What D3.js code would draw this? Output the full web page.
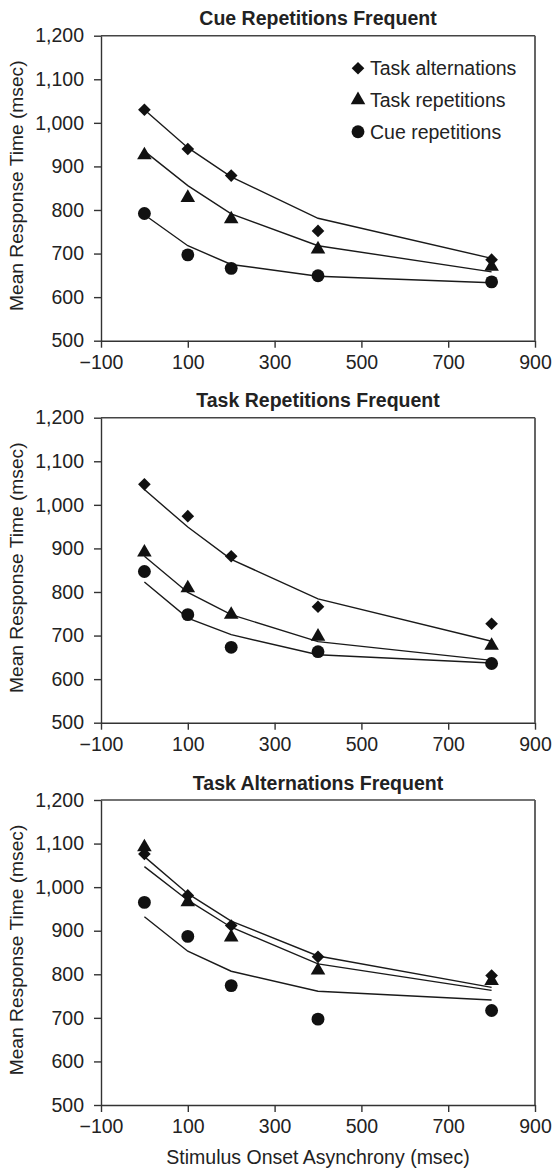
<!DOCTYPE html>
<html>
<head>
<meta charset="utf-8">
<script src="https://cdn.jsdelivr.net/npm/d3@7"></script>
<style>
  html, body { margin: 0; padding: 0; background: #fff; }
  svg { display: block; }
  text { font-family: "Liberation Sans", Arial, Helvetica, sans-serif; fill: #222; }
</style>
</head>
<body>
<svg id="chart" width="554" height="1171"></svg>
<script>
// ---------- data ----------
const soa = [0, 100, 200, 400, 800];
const xTicks = [-100, 100, 300, 500, 700, 900];
const yTicks = [500, 600, 700, 800, 900, 1000, 1100, 1200];
const seriesNames = ["Task alternations", "Task repetitions", "Cue repetitions"];
const panelTitles = ["Cue Repetitions Frequent", "Task Repetitions Frequent", "Task Alternations Frequent"];

// observed means (markers)
const cueFreqAlt = [1030, 940, 879, 752, 686];
const cueFreqRep = [926, 828, 779, 710, 670];
const cueFreqCue = [792, 697, 666, 649, 635];
const taskRepFreqAlt = [1047, 974, 882, 766, 727];
const taskRepFreqRep = [891, 809, 748, 698, 677];
const taskRepFreqCue = [847, 748, 673, 663, 636];
const taskAltFreqAlt = [1076, 981, 912, 840, 797];
const taskAltFreqRep = [1092, 966, 885, 809, 785];
const taskAltFreqCue = [965, 887, 774, 697, 717];

// model fits (lines)
const cueFreqAltFit = [1030, 943, 876, 781, 689];
const cueFreqRepFit = [935, 856, 791, 718, 658];
const cueFreqCueFit = [789, 718, 675, 648, 633];
const taskRepFreqAltFit = [1035, 949, 875, 784, 687];
const taskRepFreqRepFit = [882, 799, 748, 686, 643];
const taskRepFreqCueFit = [823, 740, 702, 656, 637];
const taskAltFreqAltFit = [1070, 985, 922, 842, 770];
const taskAltFreqRepFit = [1047, 970, 908, 824, 763];
const taskAltFreqCueFit = [932, 853, 807, 761, 741];

const panels = [
  { title: panelTitles[0], obs: [cueFreqAlt, cueFreqRep, cueFreqCue], fit: [cueFreqAltFit, cueFreqRepFit, cueFreqCueFit], legend: true },
  { title: panelTitles[1], obs: [taskRepFreqAlt, taskRepFreqRep, taskRepFreqCue], fit: [taskRepFreqAltFit, taskRepFreqRepFit, taskRepFreqCueFit] },
  { title: panelTitles[2], obs: [taskAltFreqAlt, taskAltFreqRep, taskAltFreqCue], fit: [taskAltFreqAltFit, taskAltFreqRepFit, taskAltFreqCueFit], xTitle: true }
];

// ---------- layout ----------
const left = 101, plotW = 434, plotH = 305;
const panelTops = [35.7, 417.7, 800];
const fontSize = 19.5;

const svg = d3.select("#chart");

const x = d3.scaleLinear().domain([-100, 900]).range([0, plotW]);
const y = d3.scaleLinear().domain([500, 1200]).range([plotH, 0]);

const symbols = [
  d3.symbol().type(d3.symbolSquare).size(80),
  d3.symbol().type(d3.symbolTriangle).size(92),
  d3.symbol().type(d3.symbolCircle).size(130)
];
const rotations = [45, 0, 0];

const line = d3.line().x((d, i) => x(soa[i])).y(d => y(d));

panels.forEach((p, pi) => {
  const g = svg.append("g").attr("transform", `translate(${left},${panelTops[pi]})`);

  // title
  g.append("text")
    .attr("x", plotW / 2).attr("y", -10.5)
    .attr("text-anchor", "middle")
    .style("font-size", fontSize + "px").style("font-weight", "bold")
    .text(p.title);

  // frame top/right
  g.append("line").attr("x1", 0).attr("x2", plotW).attr("y1", 0).attr("y2", 0)
    .attr("stroke", "#444").attr("stroke-width", 1.4);
  g.append("line").attr("x1", plotW).attr("x2", plotW).attr("y1", 0).attr("y2", plotH)
    .attr("stroke", "#555").attr("stroke-width", 1.8);

  // axes
  const yAxis = d3.axisLeft(y).tickValues(yTicks).tickFormat(d3.format(",")).tickSize(7).tickSizeOuter(0).tickPadding(10);
  const xAxis = d3.axisBottom(x).tickValues(xTicks).tickFormat(d3.format("d")).tickSize(7).tickSizeOuter(0).tickPadding(7);

  const ya = g.append("g").call(yAxis);
  const xa = g.append("g").attr("transform", `translate(0,${plotH})`).call(xAxis);
  [ya, xa].forEach(a => {
    a.selectAll("path,line").attr("stroke", "#333").attr("stroke-width", 1.4);
    a.selectAll("text").style("font-size", fontSize + "px").attr("fill", "#222")
      .style("font-family", '"Liberation Sans", Arial, sans-serif');
  });

  // y title
  g.append("text")
    .attr("transform", `translate(${23 - left},${plotH / 2 - 2.5}) rotate(-90)`)
    .attr("text-anchor", "middle")
    .style("font-size", "19.2px")
    .text("Mean Response Time (msec)");

  if (p.xTitle) {
    g.append("text")
      .attr("x", plotW / 2).attr("y", plotH + 58.5)
      .attr("text-anchor", "middle")
      .style("font-size", fontSize + "px")
      .text("Stimulus Onset Asynchrony (msec)");
  }

  // fit lines
  p.fit.forEach(s => {
    g.append("path").datum(s).attr("d", line)
      .attr("fill", "none").attr("stroke", "#1a1a1a").attr("stroke-width", 1.4);
  });

  // markers (circles first, diamonds last)
  [2, 1, 0].forEach(si => {
    g.selectAll(null).data(p.obs[si]).enter().append("path")
      .attr("d", symbols[si]())
      .attr("transform", (d, i) => `translate(${x(soa[i])},${y(d)}) rotate(${rotations[si]})`)
      .attr("fill", "#111");
  });

  // legend
  if (p.legend) {
    const lg = g.append("g").attr("transform", `translate(${358 - left},${68.3 - panelTops[pi]})`);
    seriesNames.forEach((name, si) => {
      const row = lg.append("g").attr("transform", `translate(0,${si * 31.7})`);
      row.append("path").attr("d", symbols[si]())
        .attr("transform", `rotate(${rotations[si]})`).attr("fill", "#111");
      row.append("text").attr("x", 12).attr("y", 7)
        .style("font-size", fontSize + "px").text(name);
    });
  }
});
</script>
</body>
</html>
